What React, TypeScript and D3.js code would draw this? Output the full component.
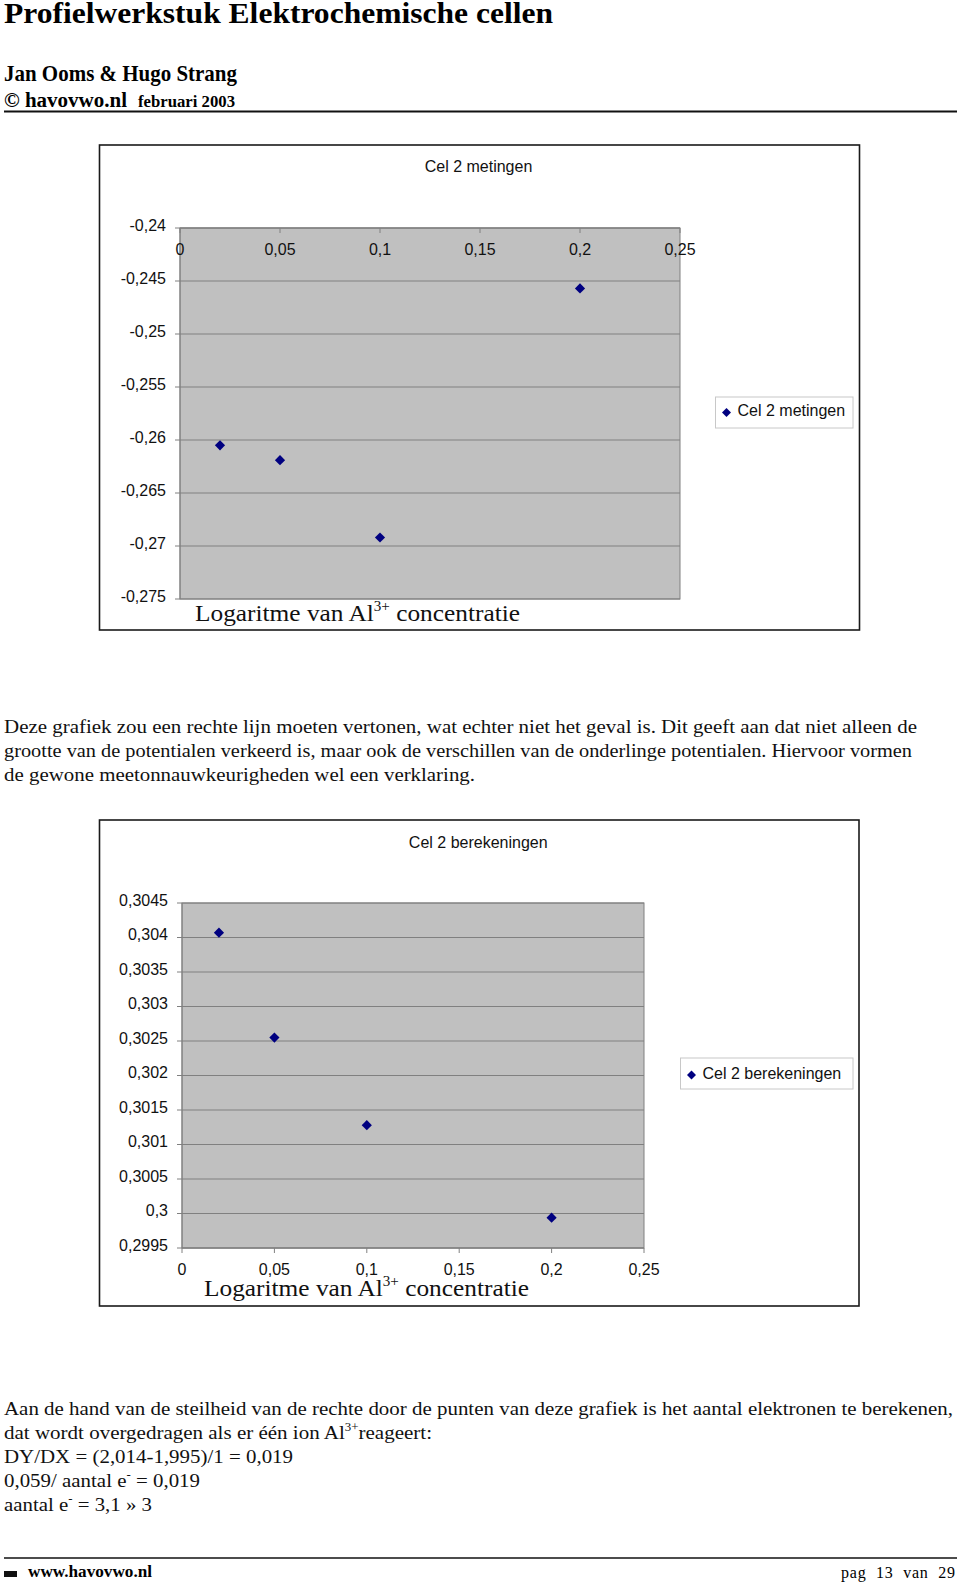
import React from "react";
import * as d3 from "d3";

// data
const xValues = [0.02, 0.05, 0.1, 0.2];
const metingenValues = [-0.2605, -0.2619, -0.2692, -0.2457];
const berekeningenValues = [0.30407, 0.30255, 0.30128, 0.29994];

const xTicks = [0, 0.05, 0.1, 0.15, 0.2, 0.25];
const metingenTicks = [-0.24, -0.245, -0.25, -0.255, -0.26, -0.265, -0.27, -0.275];
const berekeningenTicks = [
  0.3045, 0.304, 0.3035, 0.303, 0.3025, 0.302, 0.3015, 0.301, 0.3005, 0.3, 0.2995,
];

const paragraph1 = [
  "Deze grafiek zou een rechte lijn moeten vertonen, wat echter niet het geval is. Dit geeft aan dat niet alleen de",
  "grootte van de potentialen verkeerd is, maar ook de verschillen van de onderlinge potentialen. Hiervoor vormen",
  "de gewone meetonnauwkeurigheden wel een verklaring.",
];

const fmt = (v: number) => String(+v.toFixed(4)).replace(".", ",");

const SANS = "'Liberation Sans', Arial, sans-serif";
const SERIF = "'Liberation Serif', 'Times New Roman', serif";
const NAVY = "#000080";

const diamond = (size: number) => d3.symbol().type(d3.symbolSquare).size(size)() || "";

function ScatterChart({
  title,
  values,
  yTicks,
  frame,
  plot,
  xAxisTop,
  xLabelY,
  yLabelX,
  titleY,
  legend,
  axisTitle,
}: any) {
  const x = d3.scaleLinear().domain([0, 0.25]).range([plot.x0, plot.x1]);
  const y = d3
    .scaleLinear()
    .domain(d3.extent(yTicks) as [number, number])
    .range([plot.y1, plot.y0]);
  const axisY = xAxisTop ? plot.y0 : plot.y1;

  return (
    <g>
      <rect
        x={frame.x}
        y={frame.y}
        width={frame.w}
        height={frame.h}
        fill="#fff"
        stroke="#1a1a1a"
        strokeWidth={1.6}
      />
      <text
        x={(frame.x + frame.x + frame.w) / 2 - 1}
        y={titleY}
        textAnchor="middle"
        fontFamily={SANS}
        fontSize={16}
        fill="#111"
      >
        {title}
      </text>

      {/* plot area */}
      <rect
        x={plot.x0}
        y={plot.y0}
        width={plot.x1 - plot.x0}
        height={plot.y1 - plot.y0}
        fill="#c0c0c0"
        stroke="#808080"
        strokeWidth={1}
      />
      {yTicks.map((t: number) => (
        <g key={t}>
          <line x1={plot.x0} x2={plot.x1} y1={y(t)} y2={y(t)} stroke="#808080" strokeWidth={1} />
          <line x1={plot.x0 - 5} x2={plot.x0} y1={y(t)} y2={y(t)} stroke="#808080" strokeWidth={1} />
          <text
            x={yLabelX}
            y={y(t) - 3}
            dy="0.35em"
            textAnchor="end"
            fontFamily={SANS}
            fontSize={16}
            fill="#111"
          >
            {fmt(t)}
          </text>
        </g>
      ))}
      <line x1={plot.x0} x2={plot.x0} y1={plot.y0} y2={plot.y1} stroke="#808080" />
      <line x1={plot.x0} x2={plot.x1} y1={axisY} y2={axisY} stroke="#808080" />
      {xTicks.map((t) => (
        <g key={t}>
          <line x1={x(t)} x2={x(t)} y1={axisY} y2={axisY + 5} stroke="#808080" />
          <text
            x={x(t)}
            y={xLabelY}
            textAnchor="middle"
            fontFamily={SANS}
            fontSize={16}
            fill="#111"
          >
            {fmt(t)}
          </text>
        </g>
      ))}

      {values.map((v: number, i: number) => (
        <path
          key={i}
          d={diamond(52)}
          transform={`translate(${x(xValues[i])},${y(v)}) rotate(45)`}
          fill={NAVY}
        />
      ))}

      {/* axis title */}
      <text
        x={axisTitle.x}
        y={axisTitle.y}
        fontFamily={SERIF}
        fontSize={23.5}
        fill="#111"
        textLength={325}
        lengthAdjust="spacingAndGlyphs"
      >
        Logaritme van Al
        <tspan fontSize={14} dy={-10}>
          3+
        </tspan>
        <tspan dy={10}> concentratie</tspan>
      </text>

      {/* legend */}
      <rect
        x={legend.x}
        y={legend.y}
        width={legend.w}
        height={legend.h}
        fill="#fff"
        stroke="#c8c8c8"
        strokeWidth={1}
      />
      <path
        d={diamond(40)}
        transform={`translate(${legend.x + 11},${legend.y + legend.h / 2 + legend.markerDy}) rotate(45)`}
        fill={NAVY}
      />
      <text
        x={legend.x + 22}
        y={legend.y + legend.h / 2 + legend.textDy}
        fontFamily={SANS}
        fontSize={16}
        fill="#111"
      >
        {title}
      </text>
    </g>
  );
}

export default function App() {
  return (
    <svg
      width={960}
      height={1585}
      style={{ position: "absolute", left: 0, top: 0, display: "block", background: "#fff" }}
    >
      {/* header */}
      <text x={4} y={23} fontFamily={SERIF} fontWeight="bold" fontSize={29} textLength={549} lengthAdjust="spacingAndGlyphs">
        Profielwerkstuk Elektrochemische cellen
      </text>
      <text x={4} y={81} fontFamily={SERIF} fontWeight="bold" fontSize={23} textLength={233} lengthAdjust="spacingAndGlyphs">
        Jan Ooms &amp; Hugo Strang
      </text>
      <text x={4} y={107} fontFamily={SERIF} fontWeight="bold" fontSize={20} textLength={123} lengthAdjust="spacingAndGlyphs">
        © havovwo.nl
      </text>
      <text x={138} y={107} fontFamily={SERIF} fontWeight="bold" fontSize={16} textLength={97} lengthAdjust="spacingAndGlyphs">
        februari 2003
      </text>
      <line x1={4} x2={957} y1={111.5} y2={111.5} stroke="#111" strokeWidth={2} />

      <ScatterChart
        title="Cel 2 metingen"
        values={metingenValues}
        yTicks={metingenTicks}
        frame={{ x: 99.5, y: 145, w: 760, h: 485 }}
        plot={{ x0: 180, x1: 680, y0: 228, y1: 599 }}
        xAxisTop={true}
        xLabelY={255}
        yLabelX={166}
        titleY={172}
        legend={{ x: 715.5, y: 397, w: 137.5, h: 31, markerDy: 0, textDy: 3 }}
        axisTitle={{ x: 195, y: 621 }}
      />

      {paragraph1.map((line, i) => (
        <text
          key={i}
          x={4}
          y={733 + i * 24}
          fontFamily={SERIF}
          fontSize={19.5}
          fill="#111"
          textLength={[913, 908, 471][i]}
          lengthAdjust="spacingAndGlyphs"
        >
          {line}
        </text>
      ))}

      <ScatterChart
        title="Cel 2 berekeningen"
        values={berekeningenValues}
        yTicks={berekeningenTicks}
        frame={{ x: 99.5, y: 820, w: 759.5, h: 486 }}
        plot={{ x0: 182, x1: 644, y0: 903, y1: 1248 }}
        xAxisTop={false}
        xLabelY={1275}
        yLabelX={168}
        titleY={848}
        legend={{ x: 680.5, y: 1058, w: 172.5, h: 31, markerDy: 1.5, textDy: 5.5 }}
        axisTitle={{ x: 204, y: 1296 }}
      />

      {/* closing text */}
      <g fontFamily={SERIF} fontSize={19.5} fill="#111">
        <text x={4} y={1415} textLength={949} lengthAdjust="spacingAndGlyphs">
          Aan de hand van de steilheid van de rechte door de punten van deze grafiek is het aantal elektronen te berekenen,
        </text>
        <text x={4} y={1439} textLength={428} lengthAdjust="spacingAndGlyphs">
          dat wordt overgedragen als er één ion Al
          <tspan fontSize={12} dy={-8}>3+</tspan>
          <tspan dy={8}>reageert:</tspan>
        </text>
        <text x={4} y={1463} textLength={289} lengthAdjust="spacingAndGlyphs">
          DY/DX = (2,014-1,995)/1 = 0,019
        </text>
        <text x={4} y={1487} textLength={196} lengthAdjust="spacingAndGlyphs">
          0,059/ aantal e
          <tspan fontSize={12} dy={-8}>-</tspan>
          <tspan dy={8}> = 0,019</tspan>
        </text>
        <text x={4} y={1511} textLength={148} lengthAdjust="spacingAndGlyphs">
          aantal e
          <tspan fontSize={12} dy={-8}>-</tspan>
          <tspan dy={8}> = 3,1 » 3</tspan>
        </text>
      </g>

      {/* footer */}
      <line x1={4} x2={957} y1={1558} y2={1558} stroke="#111" strokeWidth={1.6} />
      <rect x={4} y={1571} width={13} height={6} fill="#111" />
      <text x={28} y={1577} fontFamily={SERIF} fontWeight="bold" fontSize={16} textLength={124} lengthAdjust="spacingAndGlyphs">
        www.havovwo.nl
      </text>
      <text x={841} y={1578} fontFamily={SERIF} fontSize={16} textLength={114} lengthAdjust="spacing" xmlSpace="preserve">
        pag  13  van  29
      </text>
    </svg>
  );
}
